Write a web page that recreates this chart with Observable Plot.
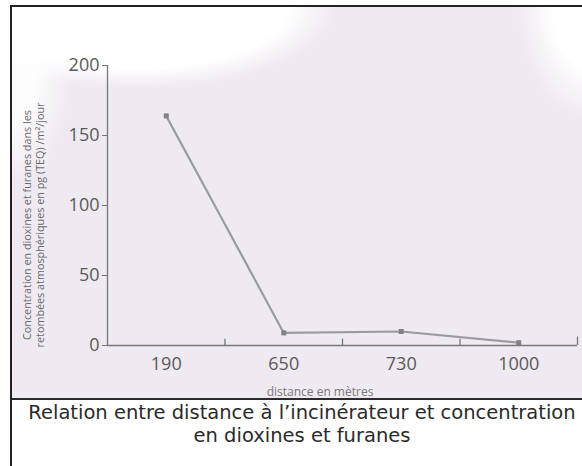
<!DOCTYPE html>
<html><head><meta charset="utf-8">
<script src="https://cdn.jsdelivr.net/npm/d3@7"></script>
<script src="https://cdn.jsdelivr.net/npm/@observablehq/plot@0.6"></script>
<style>
body{margin:0;background:#fff;width:582px;height:466px;overflow:hidden;position:relative;font-family:"Open Sans",sans-serif;}
#frame{position:absolute;left:10px;top:5px;width:590px;height:470px;border-left:2px solid #222;border-top:2px solid #222;}
#panel{position:absolute;left:0;top:0;width:590px;height:391px;border-bottom:2px solid #2a2a2a;
 background:
  radial-gradient(ellipse 200px 82px at 125px 0px, #ffffff 75%, rgba(255,255,255,0) 100%),
  radial-gradient(ellipse 80px 115px at 585px 0px, #ffffff 55%, rgba(255,255,255,0) 100%),
  radial-gradient(ellipse 60px 120px at 0px 60px, rgba(255,255,255,0.9) 40%, rgba(255,255,255,0) 100%),
  #efe9f1;}
#chart{position:absolute;left:0;top:0;}
#ylab{position:absolute;left:21px;top:218px;width:340px;transform:translate(-50%,-50%) rotate(-90deg);
 font-size:10.8px;line-height:13px;color:#6a6a6a;text-align:center;white-space:nowrap;}
#xlab{position:absolute;left:308px;top:376px;transform:translateX(-50%);font-size:12px;color:#7a7a7a;white-space:nowrap;}
#caption{position:absolute;left:12px;top:401px;width:580px;text-align:center;font-family:"DejaVu Sans",sans-serif;font-size:19.5px;line-height:23px;color:#2a2a2a;white-space:nowrap;}
</style></head>
<body>
<div id="frame"><div id="panel"><div id="chart"></div>
<div id="ylab">Concentration en dioxines et furanes dans les<br>retombées atmosphériques en pg (TEQ) /m²/jour</div>
<div id="xlab">distance en mètres</div>
</div></div>
<div id="caption">Relation entre distance à l’incinérateur et concentration<br>en dioxines et furanes</div>
<script>
const distances = ["190", "650", "730", "1000"];
const concentrations = [164, 9, 10, 2];
const yTicks = [0, 50, 100, 150, 200];

const data = distances.map((d, i) => ({i, d, v: concentrations[i]}));
const separators = distances.map((d, i) => i + 0.5);

const chart = Plot.plot({
  width: 570, height: 391,
  marginLeft: 95, marginRight: 5, marginTop: 58, marginBottom: 53,
  style: {background: "transparent", fontFamily: "Open Sans, sans-serif"},
  x: {domain: [-0.5, distances.length - 0.5], axis: null},
  y: {domain: [0, 200], axis: null},
  marks: [
    Plot.axisY(yTicks, {tickSize: 5, tickPadding: 3, fontSize: 18, color: "#5a5a5a", stroke: "#777", label: null}),
    Plot.axisX(distances.map((d, i) => i), {tickSize: 0, tickPadding: 12, fontSize: 18, color: "#5a5a5a", tickFormat: i => distances[i], label: null}),
    Plot.ruleY([0], {x1: -0.5, x2: distances.length - 0.5, stroke: "#777", strokeWidth: 1.3}),
    Plot.ruleX([-0.5], {y1: 0, y2: 200, stroke: "#777", strokeWidth: 1.3}),
    Plot.ruleX(separators, {y1: 0, y2: (d, i) => i === separators.length - 1 ? 6 : 4.5, stroke: "#777", strokeWidth: 1.3}),
    Plot.line(data, {x: "i", y: "v", stroke: "#9b9b9f", strokeWidth: 2.2}),
    Plot.dot(data, {x: "i", y: "v", symbol: "square", r: 2.8, fill: "#808085"})
  ]
});
document.getElementById("chart").appendChild(chart);
</script>
</body></html>
